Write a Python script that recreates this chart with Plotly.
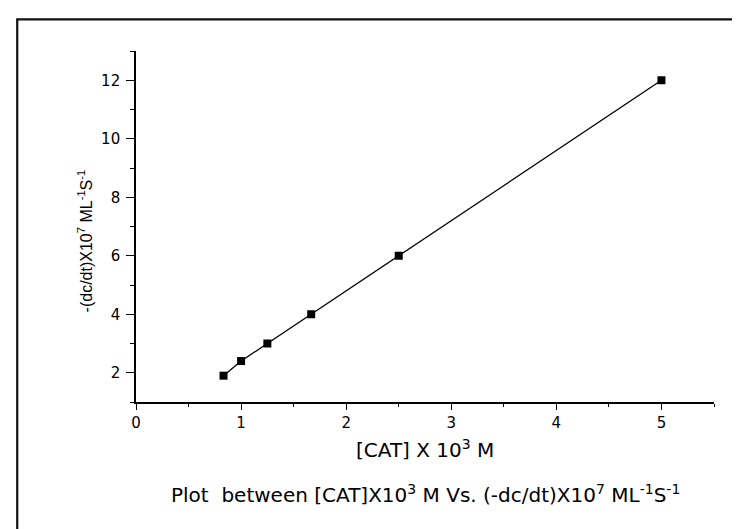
import plotly.graph_objects as go

cat_conc = [0.833, 1.0, 1.25, 1.667, 2.5, 5.0]
rate = [1.9, 2.4, 3.0, 4.0, 6.0, 12.0]

x_ticks = [0, 1, 2, 3, 4, 5]
y_ticks = [2, 4, 6, 8, 10, 12]

x_title = "[CAT] X 10<sup>3</sup> M"
y_title = "-(dc/dt)X10<sup>7</sup> ML<sup>-1</sup>S<sup>-1</sup>"
caption = "Plot  between [CAT]X10<sup>3</sup> M Vs. (-dc/dt)X10<sup>7</sup> ML<sup>-1</sup>S<sup>-1</sup>"

WIDE = "DejaVu Sans, Verdana, sans-serif"
ARIAL = "Arial, Liberation Sans, sans-serif"

fig = go.Figure()
fig.add_trace(go.Scatter(
    x=cat_conc, y=rate, mode="lines+markers",
    line=dict(color="black", width=1.3),
    marker=dict(symbol="square", size=8, color="black"),
    showlegend=False,
))

axis_common = dict(
    showgrid=False, zeroline=False, showline=True, linecolor="black", linewidth=1.6,
    ticks="outside", tickwidth=1.3, tickcolor="black",
    tickfont=dict(family=WIDE, size=15, color="black"),
    mirror=False,
)
fig.update_xaxes(range=[0, 5.5], tickvals=x_ticks, ticklen=6, **axis_common,
                 minor=dict(dtick=0.5, tick0=0, ticks="outside", ticklen=3, tickwidth=1.2, tickcolor="black"))
fig.update_yaxes(range=[1, 13], tickvals=y_ticks, ticklen=8, ticklabelstandoff=3, **axis_common,
                 minor=dict(dtick=1, tick0=1, ticks="outside", ticklen=4, tickwidth=1.2, tickcolor="black"))

fig.add_annotation(text=y_title, xref="paper", yref="paper", x=-0.088, y=0.458,
                   textangle=-90, showarrow=False, xanchor="center", yanchor="middle",
                   font=dict(family=ARIAL, size=16, color="black"))
fig.add_annotation(text=x_title, xref="paper", yref="paper", x=0.5, y=-0.133,
                   showarrow=False, xanchor="center", yanchor="middle",
                   font=dict(family=WIDE, size=20, color="black"))
fig.add_annotation(text=caption, xref="paper", yref="paper", x=0.5, y=-0.262,
                   showarrow=False, xanchor="center", yanchor="middle",
                   font=dict(family=WIDE, size=20, color="black"))

fig.add_shape(type="rect", xref="paper", yref="paper",
              x0=-0.2055, x1=1.08, y0=-0.42, y1=1.09,
              line=dict(color="#111111", width=2.2), fillcolor="rgba(0,0,0,0)")

fig.update_layout(
    width=740, height=529,
    margin=dict(l=128, r=34, t=43, b=135),
    paper_bgcolor="white", plot_bgcolor="white",
)

fig.write_html("out.html")
